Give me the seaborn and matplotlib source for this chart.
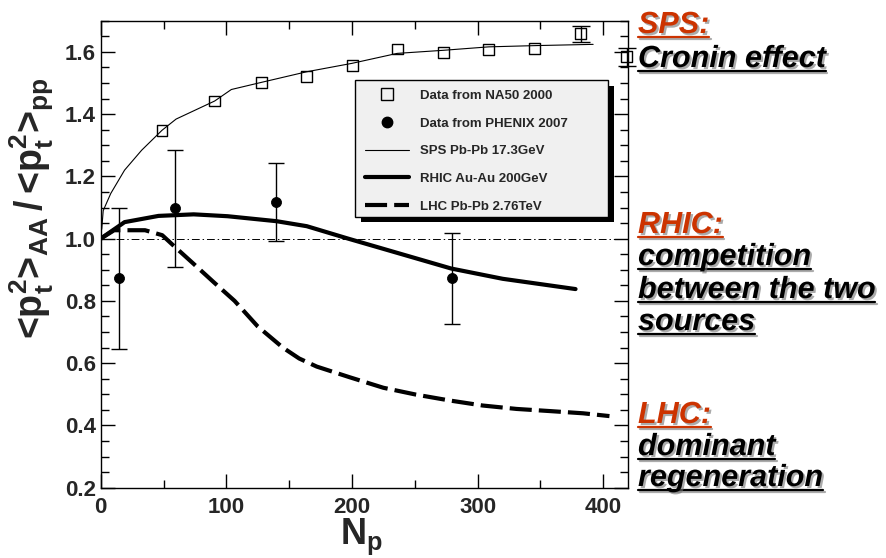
import numpy as np
import pandas as pd
import seaborn as sns
import matplotlib
matplotlib.use("Agg")
import matplotlib.pyplot as plt
from matplotlib.lines import Line2D
from matplotlib.patches import Rectangle
import matplotlib.patheffects as pe
from matplotlib.ticker import MultipleLocator, FormatStrFormatter

# ---------------- data ----------------
na50_np = [48.8, 90.7, 127.7, 163.6, 200.3, 236.2, 273.0, 308.6, 345.6, 382.0, 418.6]
na50_ratio = [1.348, 1.442, 1.500, 1.520, 1.557, 1.609, 1.597, 1.608, 1.611, 1.658, 1.584]
na50_err = [0, 0, 0, 0, 0, 0, 0, 0, 0, 0.025, 0.028]

phenix_np = [14.2, 59.5, 139.8, 279.3]
phenix_ratio = [0.872, 1.097, 1.118, 0.872]
phenix_err = [0.228, 0.187, 0.124, 0.145]

sps_np = [0.8, 2, 8, 19, 32.6, 48.8, 60, 90.7, 104, 128, 164, 200, 236, 273, 309, 346, 392]
sps_ratio = [1.030, 1.09, 1.145, 1.22, 1.284, 1.348, 1.384, 1.442, 1.479, 1.502,
             1.536, 1.563, 1.595, 1.605, 1.616, 1.620, 1.624]

rhic_np = [0, 19, 46, 74, 101, 140, 164, 197, 238, 279, 320, 378]
rhic_ratio = [1.0, 1.053, 1.073, 1.078, 1.072, 1.056, 1.040, 1.0, 0.952, 0.904, 0.871, 0.838]

lhc_np = [0, 10.7, 35.3, 49, 60, 73.7, 90, 106.6, 125, 145, 158, 172, 198, 225, 251, 278,
          304, 331, 358, 384, 405]
lhc_ratio = [1.0, 1.027, 1.027, 1.011, 0.97, 0.92, 0.86, 0.80, 0.718, 0.650, 0.615, 0.589,
             0.555, 0.521, 0.499, 0.480, 0.464, 0.453, 0.446, 0.439, 0.430]

legend_labels = ["Data from NA50 2000", "Data from PHENIX 2007", "SPS Pb-Pb 17.3GeV",
                 "RHIC Au-Au 200GeV", "LHC Pb-Pb 2.76TeV"]

x_ticks = [0, 100, 200, 300, 400]
y_ticks = [0.2, 0.4, 0.6, 0.8, 1.0, 1.2, 1.4, 1.6]

side_notes = [("SPS:", "#cc3300", 33), ("Cronin effect", "black", 67),
              ("RHIC:", "#cc3300", 233), ("competition", "black", 265),
              ("between the two", "black", 298), ("sources", "black", 330),
              ("LHC:", "#cc3300", 423), ("dominant", "black", 455),
              ("regeneration", "black", 486)]

# ---------------- style ----------------
sns.set_style("ticks")
plt.rcParams["font.family"] = ["Liberation Sans", "DejaVu Sans"]
plt.rcParams["font.weight"] = "bold"
plt.rcParams["mathtext.default"] = "regular"
plt.rcParams["axes.linewidth"] = 1.0

W, H = 886, 558
fig = plt.figure(figsize=(W / 100, H / 100), dpi=100)
ax = fig.add_axes([100.7 / W, 1 - 487.7 / H, (628.3 - 100.7) / W, (487.7 - 20.7) / H])

# reference line at 1
ax.axhline(1.0, color="k", lw=0.7, ls=(0, (8, 3, 1.5, 3)), zorder=1)

# curves
sns.lineplot(x=sps_np, y=sps_ratio, color="k", lw=0.8, ax=ax, sort=False, errorbar=None, zorder=2)
sns.lineplot(x=rhic_np, y=rhic_ratio, color="k", lw=3, ax=ax, sort=False, errorbar=None, zorder=2)
sns.lineplot(x=lhc_np, y=lhc_ratio, color="k", lw=3, ax=ax, sort=False, errorbar=None, zorder=2,
             linestyle=(0, (5.3, 1.7)))

# error bars
na_x = [x for x, e in zip(na50_np, na50_err) if e > 0]
na_y = [y for y, e in zip(na50_ratio, na50_err) if e > 0]
na_e = [e for e in na50_err if e > 0]
eb = ax.errorbar(na_x, na_y, yerr=na_e, fmt="none", ecolor="k", elinewidth=1, capsize=6.5,
                 capthick=1, zorder=3)
for art in eb.get_children():
    art.set_clip_on(False)
ax.errorbar(phenix_np, phenix_ratio, yerr=phenix_err, fmt="none", ecolor="k", elinewidth=1,
            capsize=5.5, capthick=1, zorder=3)

# markers
sns.scatterplot(x=na50_np, y=na50_ratio, marker="s", s=62, color="k", ax=ax, zorder=4, clip_on=False)
sq = ax.collections[-1]
sq.set_facecolor("none")
sq.set_edgecolor("k")
sq.set_linewidth(1.0)
sns.scatterplot(x=phenix_np, y=phenix_ratio, marker="o", s=52, color="k", edgecolor="k", ax=ax, zorder=4)

# axes
ax.set_xlim(0, 420)
ax.set_ylim(0.2, 1.7)
ax.set_xticks(x_ticks)
ax.set_yticks(y_ticks)
ax.xaxis.set_minor_locator(MultipleLocator(50))
ax.yaxis.set_minor_locator(MultipleLocator(0.05))
ax.yaxis.set_major_formatter(FormatStrFormatter("%.1f"))
ax.tick_params(which="both", direction="in", top=True, right=True, width=1, color="k")
ax.tick_params(which="major", length=10)
ax.tick_params(which="minor", length=6)
ax.tick_params(axis="x", which="major", labelsize=16, pad=6.5)
ax.tick_params(axis="y", which="major", labelsize=16, pad=3.4)
for s in ax.spines.values():
    s.set_visible(True)
    s.set_color("k")
ax.set_xlabel("")
ax.set_ylabel("")

# legend box with shadow
lx0, ly0, lw_, lh_ = 0.482, 0.580, 0.480, 0.293
ax.add_patch(Rectangle((lx0 + 0.0105, ly0 - 0.0118), lw_, lh_, transform=ax.transAxes,
                       facecolor="k", edgecolor="none", zorder=5))
ax.add_patch(Rectangle((lx0, ly0), lw_, lh_, transform=ax.transAxes,
                       facecolor="#f0f0f0", edgecolor="k", lw=1, zorder=5.5))
handles = [
    Line2D([], [], marker="s", mfc="none", mec="k", mew=1, ls="none", ms=8),
    Line2D([], [], marker="o", color="k", ls="none", ms=7.5),
    Line2D([], [], color="k", lw=0.8),
    Line2D([], [], color="k", lw=3),
    Line2D([], [], color="k", lw=3, ls=(0, (5.3, 1.7))),
]
leg = ax.legend(handles, legend_labels, loc="upper left", bbox_to_anchor=(0.501, 0.852),
                frameon=False, handlelength=3.3, handletextpad=0.85,
                labelspacing=1.17, borderpad=0, borderaxespad=0,
                prop={"weight": "bold", "size": 9.5})
leg.set_zorder(6)

# axis labels
fig.text(32 / W, 1 - 208 / H, r"<p$_t^2$>$_{AA}\,$/$\,$<p$_t^2$>$_{pp}$", rotation=90,
         ha="center", va="center", fontsize=27, fontweight="bold")
fig.text(361 / W, 1.0 / H, "N$_p$", ha="center", va="bottom", fontsize=26, fontweight="bold")

# side notes
shadow_fx = [pe.SimplePatchShadow(offset=(1.5, -1.5), shadow_rgbFace="0.45", alpha=0.6), pe.Normal()]
texts = []
for txt, col, base in side_notes:
    t = fig.text(638 / W, 1 - base / H, txt, ha="left", va="baseline", fontsize=22,
                 fontweight="bold", fontstyle="italic", color=col, path_effects=shadow_fx)
    texts.append((t, col, base))

fig.canvas.draw()
renderer = fig.canvas.get_renderer()
for t, col, base in texts:
    bb = t.get_window_extent(renderer)
    yline = 1 - (base + 4) / H
    fig.add_artist(Line2D([bb.x0 / W, bb.x1 / W], [yline, yline], transform=fig.transFigure,
                          color=col, lw=1.6,
                          path_effects=[pe.SimpleLineShadow(offset=(1.2, -1.2), shadow_color="0.45", alpha=0.6),
                                        pe.Normal()]))

fig.savefig("out.png", dpi=100)
